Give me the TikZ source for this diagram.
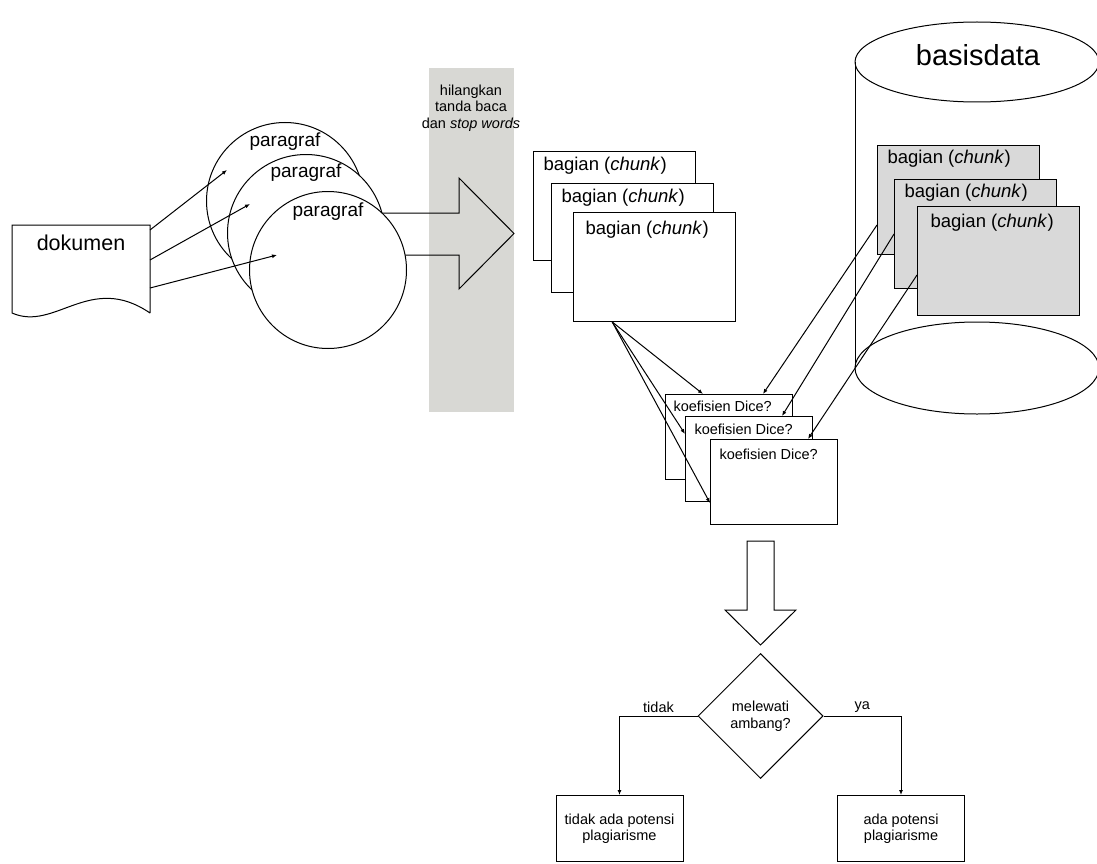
\documentclass[tikz,border=0pt]{standalone}
\usepackage{fontspec}
\setmainfont{Liberation Sans}
\usepackage{tikz}
\usetikzlibrary{shapes,arrows,positioning,calc,arrows.meta}
\definecolor{bandgray}{RGB}{216,216,212}
\definecolor{dbgray}{RGB}{217,217,217}

\begin{document}
\begin{tikzpicture}[x=1pt, y=-1pt, line width=1pt,
    para circle/.style={draw, circle, fill=white, minimum size=157pt, inner sep=0pt},
    chunk box/.style={draw, rectangle, fill=white, minimum width=161.5pt, minimum height=109pt, inner sep=0pt, anchor=north west},
    db box/.style={chunk box, fill=dbgray},
    dice box/.style={draw, rectangle, fill=white, minimum width=127pt, minimum height=85pt, inner sep=0pt, anchor=north west},
    result box/.style={draw, rectangle, minimum width=127pt, minimum height=66pt, inner sep=0pt, anchor=north, align=center, small text},
    decision/.style={draw, diamond, minimum width=125pt, minimum height=125pt, inner sep=0pt, align=center, small text},
    small text/.style={font=\fontsize{14.5}{16.5}\selectfont, align=center},
    chunk text/.style={font=\fontsize{18.5}{21}\selectfont, anchor=west, inner sep=0pt},
    dice text/.style={font=\fontsize{14.5}{16.5}\selectfont, anchor=west, inner sep=0pt},
    para text/.style={font=\fontsize{19}{22}\selectfont, inner sep=0pt},
    link/.style={-{Latex[length=5pt,width=4pt]}}]
    \useasboundingbox (0,0) rectangle (1097,864);

    \fill[bandgray] (429,68) rectangle (514,412);
    \node[small text] (band) at (471,108) {hilangkan\\tanda baca\\dan \textit{stop words}};
    \draw (328,213) -- (459,213) -- (459,178) -- (514,233.5) -- (459,289) -- (459,255) -- (328,255);

    \node[para circle] (p1) at (285,201) {};
    \node[para text] (p1t) at ([shift={(0,20)}]p1.north) {paragraf};
    \node[para circle] (p2) at (306,233) {};
    \node[para text] (p2t) at ([shift={(0,19)}]p2.north) {paragraf};
    \node[para circle] (p3) at (328,270) {};
    \node[para text] (p3t) at ([shift={(0,21)}]p3.north) {paragraf};

    \node[minimum width=137pt, minimum height=87pt, inner sep=0pt, anchor=north west] (doc) at (12,225) {};
    \draw (doc.south east) -- (doc.north east) -- (doc.north west) -- (doc.south west)
        .. controls (55,332) and (90,272) .. (doc.south east);
    \node[font=\fontsize{21.5}{24}\selectfont, inner sep=0pt] (doct) at ([shift={(0,18)}]doc.north) {dokumen};
    \draw[link] ([shift={(0,5)}]doc.north east) -- ([shift={(-58,-31)}]p1.center);
    \draw[link] ([shift={(0,35)}]doc.north east) -- ([shift={(-56,-29)}]p2.center);
    \draw[link] ([shift={(0,63)}]doc.north east) -- ([shift={(-51,-15)}]p3.center);

    \node[chunk box] (ch1) at (533,151) {};
    \node[chunk text] (ch1t) at ([shift={(10,15)}]ch1.north west) {bagian (\textit{chunk})};
    \node[chunk box] (ch2) at (551,183) {};
    \node[chunk text] (ch2t) at ([shift={(10,15)}]ch2.north west) {bagian (\textit{chunk})};
    \node[chunk box] (ch3) at (573,212) {};
    \node[chunk text] (ch3t) at ([shift={(12,18)}]ch3.north west) {bagian (\textit{chunk})};

    \draw (977,62) ellipse (122pt and 40pt);
    \draw (855,62) -- (855,368);
    \draw (1099,62) -- (1099,368);
    \draw (977,368) ellipse (122pt and 46pt);
    \node[font=\fontsize{29}{32}\selectfont, inner sep=0pt] (db) at (978,55) {basisdata};

    \node[db box] (gb1) at (877,145) {};
    \node[chunk text] (gb1t) at ([shift={(10,14)}]gb1.north west) {bagian (\textit{chunk})};
    \node[db box] (gb2) at (894,179) {};
    \node[chunk text] (gb2t) at ([shift={(10,14)}]gb2.north west) {bagian (\textit{chunk})};
    \node[db box] (gb3) at (917,206) {};
    \node[chunk text] (gb3t) at ([shift={(13,17)}]gb3.north west) {bagian (\textit{chunk})};

    \node[dice box] (dc1) at (665,394) {};
    \node[dice text] (dc1t) at ([shift={(8,12)}]dc1.north west) {koefisien Dice?};
    \node[dice box] (dc2) at (685,416) {};
    \node[dice text] (dc2t) at ([shift={(9,13)}]dc2.north west) {koefisien Dice?};
    \node[dice box] (dc3) at (710,439) {};
    \node[dice text] (dc3t) at ([shift={(9,15)}]dc3.north west) {koefisien Dice?};

    \coordinate (fan) at ([shift={(-42,0)}]ch3.south);
    \draw[link] (fan) -- ([shift={(-26,0)}]dc1.north);
    \draw[link] (fan) -- ([shift={(0,-25)}]dc2.west);
    \draw[link] (fan) -- ([shift={(0,21)}]dc3.west);
    \draw[link] ([shift={(0,25)}]gb1.west) -- ([shift={(34,0)}]dc1.north);
    \draw[link] (gb2.west) -- ([shift={(33,0)}]dc2.north);
    \draw[link] ([shift={(0,14)}]gb3.west) -- ([shift={(34,0)}]dc3.north);

    \draw (747,541) -- (774,541) -- (774,610) -- (796,610) -- (760.5,645) -- (725,610) -- (747,610) -- cycle;

    \node[decision] (dec) at (760.5,716) {melewati\\ambang?};
    \node[result box] (no) at (619.5,795) {tidak ada potensi\\plagiarisme};
    \node[result box] (yes) at (901,795) {ada potensi\\plagiarisme};
    \draw[link] (dec.west) -| (no.north) node[pos=0.25, above, small text] {tidak};
    \draw[link] (dec.east) -| (yes.north) node[pos=0.25, above, small text] {ya};
\end{tikzpicture}
\end{document}
